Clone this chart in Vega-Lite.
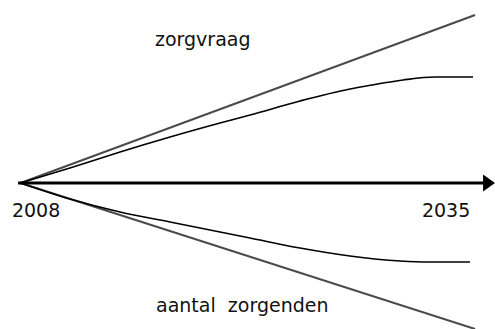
{
  "$schema": "https://vega.github.io/schema/vega-lite/v6.json",
  "width": 495,
  "height": 329,
  "padding": 0,
  "autosize": {"type": "none"},
  "background": "white",
  "config": {"view": {"stroke": null}},
  "datasets": {
    "gray": [
      {"series": "up", "year": 2008.0, "value": 0},
      {"series": "up", "year": 2036.93, "value": 168},
      {"series": "down", "year": 2008.0, "value": 0},
      {"series": "down", "year": 2036.93, "value": -146}
    ],
    "curves": [
      {"series": "zorgvraag", "year": 2008.0, "value": 0},
      {"series": "zorgvraag", "year": 2011.15, "value": 15},
      {"series": "zorgvraag", "year": 2014.34, "value": 31},
      {"series": "zorgvraag", "year": 2017.52, "value": 46},
      {"series": "zorgvraag", "year": 2020.7, "value": 60},
      {"series": "zorgvraag", "year": 2022.61, "value": 68},
      {"series": "zorgvraag", "year": 2025.79, "value": 82},
      {"series": "zorgvraag", "year": 2028.97, "value": 94},
      {"series": "zorgvraag", "year": 2030.37, "value": 98},
      {"series": "zorgvraag", "year": 2032.35, "value": 103},
      {"series": "zorgvraag", "year": 2034.38, "value": 106},
      {"series": "zorgvraag", "year": 2036.8, "value": 106},
      {"series": "zorgenden", "year": 2008.0, "value": 0},
      {"series": "zorgenden", "year": 2011.15, "value": -16},
      {"series": "zorgenden", "year": 2014.34, "value": -29},
      {"series": "zorgenden", "year": 2017.52, "value": -39},
      {"series": "zorgenden", "year": 2020.7, "value": -49},
      {"series": "zorgenden", "year": 2022.61, "value": -55},
      {"series": "zorgenden", "year": 2025.79, "value": -65},
      {"series": "zorgenden", "year": 2028.97, "value": -73},
      {"series": "zorgenden", "year": 2032.16, "value": -78},
      {"series": "zorgenden", "year": 2034.06, "value": -79},
      {"series": "zorgenden", "year": 2036.61, "value": -79}
    ],
    "axis": [
      {"year": 2007.85, "value": 0},
      {"year": 2037.5, "value": 0}
    ],
    "head": [
      {"year": 2037.82, "value": 0}
    ],
    "labels": [
      {"label": "zorgvraag", "year": 2016.56, "value": 137},
      {"label": "aantal\u00a0 zorgenden", "year": 2016.63, "value": -129},
      {"label": "2008", "year": 2007.46, "value": -34},
      {"label": "2035", "year": 2033.55, "value": -34}
    ]
  },
  "encoding": {
    "x": {"field": "year", "type": "quantitative", "scale": {"domain": [2006.7, 2038.2], "nice": false, "zero": false}, "axis": null},
    "y": {"field": "value", "type": "quantitative", "scale": {"domain": [-146, 183], "nice": false, "zero": false}, "axis": null}
  },
  "layer": [
    {
      "data": {"name": "gray"},
      "mark": {"type": "line", "stroke": "#4a4a4a", "strokeWidth": 2, "clip": true},
      "encoding": {"detail": {"field": "series"}}
    },
    {
      "data": {"name": "curves"},
      "mark": {"type": "line", "stroke": "#000000", "strokeWidth": 1.6, "interpolate": "monotone"},
      "encoding": {"detail": {"field": "series"}}
    },
    {
      "data": {"name": "axis"},
      "mark": {"type": "line", "stroke": "#000000", "strokeWidth": 3.2},
      "encoding": {}
    },
    {
      "data": {"name": "head"},
      "mark": {"type": "point", "shape": "M-0.7,-1L0.7,0L-0.7,1Z", "filled": true, "color": "#000000", "size": 289, "opacity": 1},
      "encoding": {}
    },
    {
      "data": {"name": "labels"},
      "mark": {"type": "text", "align": "left", "baseline": "alphabetic", "font": "DejaVu Sans", "fontSize": 19, "color": "#111111"},
      "encoding": {"text": {"field": "label"}}
    }
  ]
}
